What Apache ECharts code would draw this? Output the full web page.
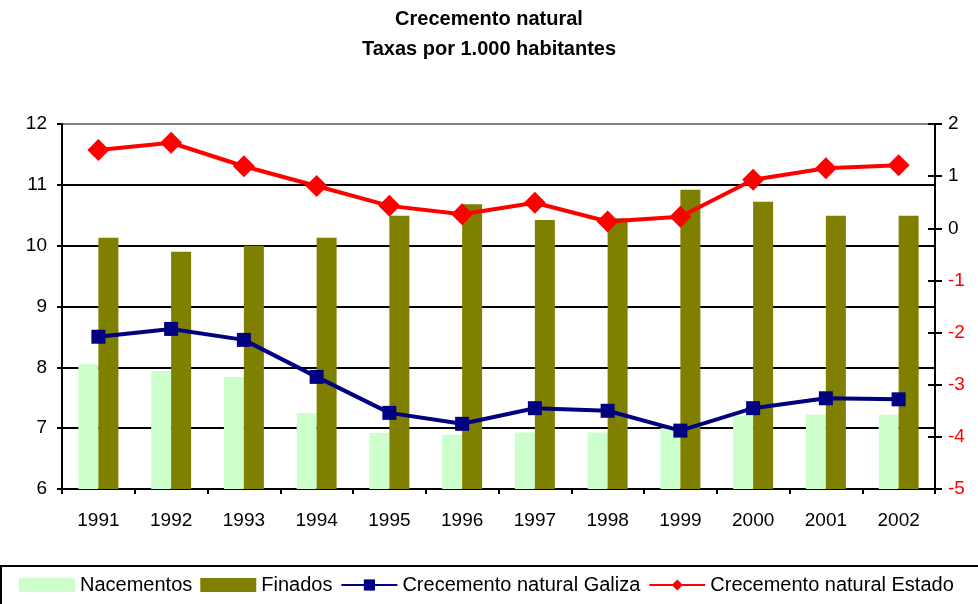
<!DOCTYPE html>
<html>
<head>
<meta charset="utf-8">
<script src="https://cdn.jsdelivr.net/npm/echarts@6/dist/echarts.min.js"></script>
<style>
  html, body { margin: 0; padding: 0; background: #fff; }
  #chart { width: 978px; height: 604px; }
</style>
</head>
<body>
<div id="chart"></div>
<script>
const years = ['1991', '1992', '1993', '1994', '1995', '1996', '1997', '1998', '1999', '2000', '2001', '2002']
const nacementos = [8.05, 7.94, 7.84, 7.25, 6.92, 6.89, 6.93, 6.93, 7.0, 7.2, 7.22, 7.22]
const finados = [10.13, 9.9, 10.0, 10.13, 10.49, 10.68, 10.42, 10.45, 10.92, 10.72, 10.49, 10.49]
const galiza = [-2.08, -1.93, -2.14, -2.85, -3.54, -3.75, -3.45, -3.5, -3.88, -3.45, -3.26, -3.28]
const estado = [1.5, 1.64, 1.19, 0.81, 0.43, 0.27, 0.49, 0.13, 0.22, 0.93, 1.15, 1.21]

const font = 'Liberation Sans, Arial, sans-serif'
let myChart = echarts.init(document.getElementById('chart'))
myChart.setOption({
  animation: false,
  textStyle: { fontFamily: font },
  title: {
    text: 'Crecemento natural\nTaxas por 1.000 habitantes',
    left: 'center',
    top: -1,
    textStyle: { fontSize: 20, fontWeight: 'bold', color: '#000', lineHeight: 30, fontFamily: font }
  },
  legend: {
    left: 14,
    top: 570,
    itemWidth: 56,
    itemHeight: 14,
    itemGap: 8,
    textStyle: { fontSize: 20, color: '#000', fontFamily: font },
    data: [
      { name: 'Nacementos', icon: 'rect' },
      { name: 'Finados', icon: 'rect' },
      { name: 'Crecemento natural Galiza' },
      { name: 'Crecemento natural Estado' }
    ]
  },
  graphic: [
    { type: 'line', shape: { x1: 0, y1: 566, x2: 978, y2: 566 }, style: { stroke: '#000', lineWidth: 2 } },
    { type: 'line', shape: { x1: 1, y1: 566, x2: 1, y2: 604 }, style: { stroke: '#000', lineWidth: 2 } }
  ],
  grid: { left: 62, right: 43, top: 124, bottom: 115 },
  xAxis: {
    type: 'category',
    data: years,
    axisLine: { onZero: false, lineStyle: { color: '#000', width: 2 } },
    axisTick: { show: true, length: 5, lineStyle: { color: '#000', width: 2 } },
    axisLabel: { fontSize: 19, color: '#000', margin: 22 }
  },
  yAxis: [
    {
      type: 'value',
      min: 6,
      max: 12,
      interval: 1,
      axisLine: { show: true, lineStyle: { color: '#000', width: 2 } },
      axisTick: { show: true, length: 5, lineStyle: { color: '#000', width: 2 } },
      axisLabel: { fontSize: 19, color: '#000', margin: 15 },
      splitLine: {
        show: true,
        lineStyle: { color: ['#000', '#000', '#000', '#000', '#000', '#000', '#808080'], width: 2 }
      }
    },
    {
      type: 'value',
      min: -5,
      max: 2,
      interval: 1,
      position: 'right',
      axisLine: { show: true, lineStyle: { color: '#000', width: 2 } },
      axisTick: { show: true, length: 7, lineStyle: { color: '#000', width: 2 } },
      axisLabel: {
        fontSize: 19,
        margin: 13,
        color: function (val) { return Number(val) < 0 ? '#ff0000' : '#000' }
      },
      splitLine: { show: false }
    },
    {
      // marcas interiores do eixo dereito
      type: 'value',
      min: -5,
      max: 2,
      interval: 1,
      position: 'right',
      axisLine: { show: false },
      axisTick: { show: true, inside: true, length: 7, lineStyle: { color: '#000', width: 2 } },
      axisLabel: { show: false },
      splitLine: { show: false }
    }
  ],
  series: [
    {
      name: 'Nacementos',
      type: 'bar',
      color: '#ccffcc',
      barWidth: 20,
      barGap: 0,
      data: nacementos
    },
    {
      name: 'Finados',
      type: 'bar',
      color: '#808000',
      barWidth: 20,
      data: finados
    },
    {
      name: 'Crecemento natural Galiza',
      type: 'line',
      yAxisIndex: 1,
      color: '#000080',
      symbol: 'rect',
      symbolSize: 14,
      lineStyle: { width: 4 },
      data: galiza
    },
    {
      name: 'Crecemento natural Estado',
      type: 'line',
      yAxisIndex: 1,
      color: '#ff0000',
      symbol: 'diamond',
      symbolSize: 22,
      lineStyle: { width: 4 },
      data: estado
    }
  ]
})
</script>
</body>
</html>
